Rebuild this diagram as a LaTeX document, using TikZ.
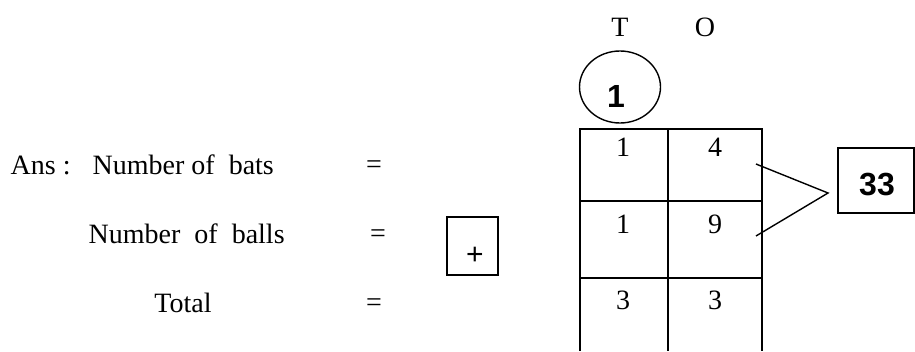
\documentclass[tikz,border=0pt]{standalone}
\usepackage{fontspec}
\setmainfont{Liberation Serif}
\newfontfamily\sansb{Liberation Sans}
\usetikzlibrary{shapes.geometric}
\begin{document}
\begin{tikzpicture}[x=1pt,y=-1pt,line width=1.4pt,
  txt/.style={inner sep=0pt,font=\fontsize{28}{30}\selectfont},
  bsf/.style={inner sep=0pt,font=\sansb\bfseries\fontsize{32}{34}\selectfont},
  boxed/.style={draw,inner sep=0pt}]
\useasboundingbox (0,0) rectangle (915,351);
% left texts
\node[txt,anchor=west] (ans) at (10,165) {Ans :};
\node[txt,anchor=west] (bats) at (92,165) {Number of\ \ bats};
\node[txt,anchor=west] (balls) at (88,234) {Number\ \ of\ \ balls};
\node[txt] (total) at (183,303) {Total};
\node[txt] (eq1) at (374,167) {=};
\node[txt] (eq2) at (378,236) {=};
\node[txt] (eq3) at (374,305) {=};
% plus box
\node[boxed,minimum width=51pt,minimum height=58pt] (plusbox) at (472.5,246) {};
\node[inner sep=0pt,font=\sansb\fontsize{30}{32}\selectfont] (plus) at (475,256) {+};
% header
\node[txt] (T) at (620,27) {T};
\node[txt] (O) at (705,27) {O};
\node[draw,ellipse,minimum width=81pt,minimum height=72pt] (carry) at (620,87) {};
\node[bsf] (c1) at (616,96) {1};
% grid
\draw (580,351) -- (580,129) -- (762,129) -- (762,351);
\draw (668,129) -- (668,351);
\draw (580,201) -- (762,201);
\draw (580,278) -- (762,278);
\node[txt] (t1) at (623,147) {1};
\node[txt] (o1) at (715,147) {4};
\node[txt] (t2) at (623,224) {1};
\node[txt] (o2) at (715,224) {9};
\node[txt] (t3) at (623,300) {3};
\node[txt] (o3) at (715,300) {3};
% result box
\node[boxed,minimum width=76pt,minimum height=65pt] (res) at (876,180.5) {};
\node[bsf] (r33) at (877,185) {33};
\coordinate (p1) at (756,164);
\coordinate (p2) at (756,236);
\coordinate (tip) at (828,193);
\draw (p1) -- (tip) -- (p2);
\end{tikzpicture}
\end{document}
